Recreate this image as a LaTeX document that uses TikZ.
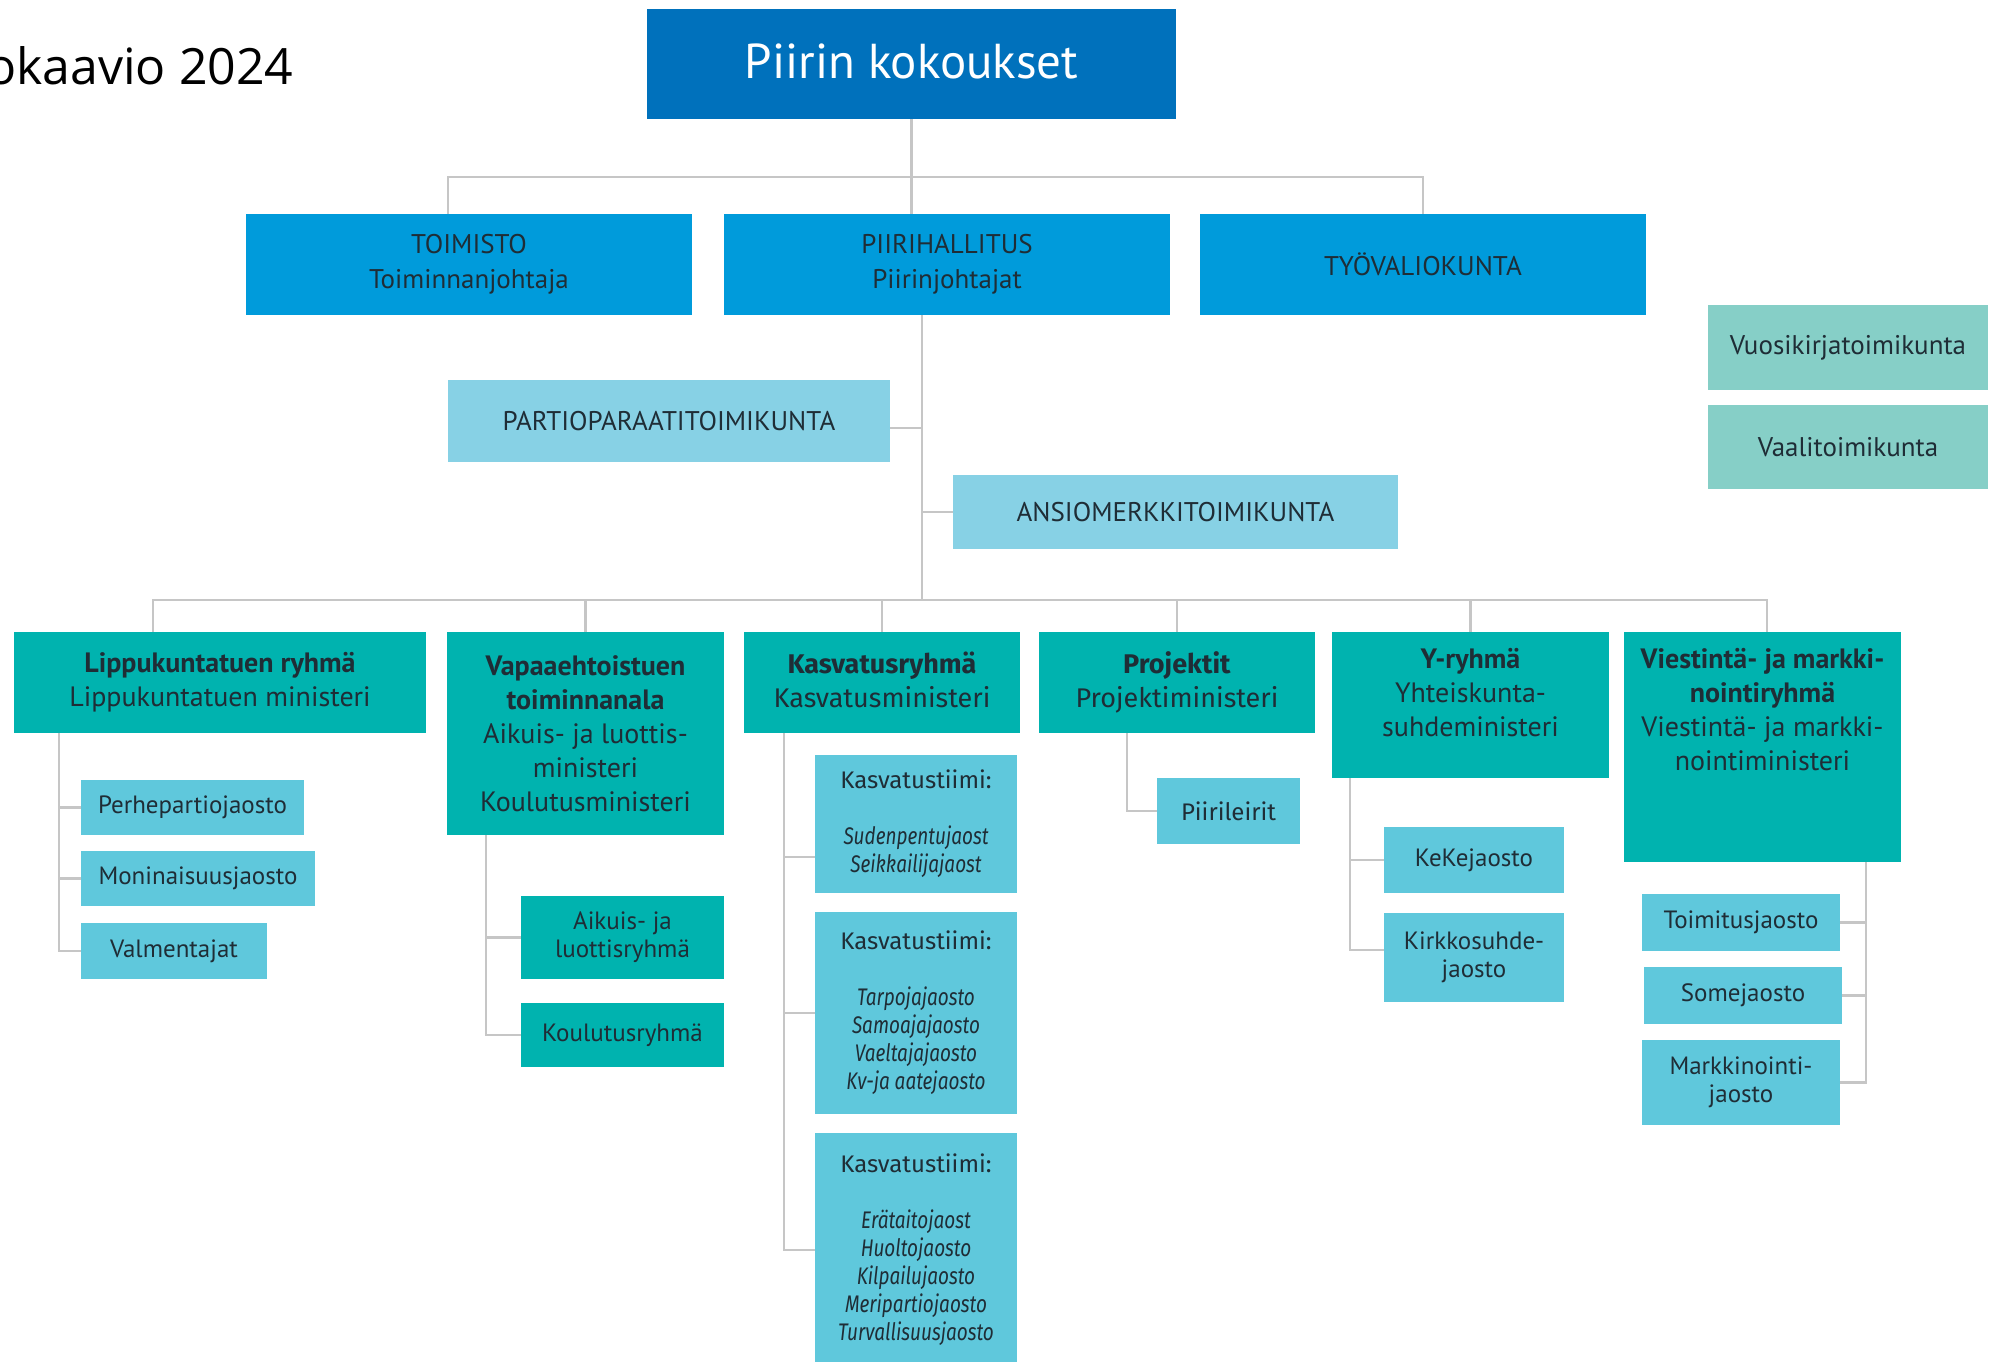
\documentclass[tikz,border=0pt]{standalone}
\usepackage{fontspec}
\setmainfont{PT Sans}
\newfontfamily\widefont{Fira Sans}
\newfontfamily\tiimifont{Fira Sans}[FakeStretch=0.79]
\newfontfamily\titlefont{Open Sans}
\newcommand{\jaos}[1]{{\tiimifont\itshape #1}}

\definecolor{topblue}{HTML}{0071BC}
\definecolor{boardblue}{HTML}{009BDB}
\definecolor{cmteblue}{HTML}{87D1E5}
\definecolor{sideteal}{HTML}{86CFC7}
\definecolor{grpteal}{HTML}{00B3AF}
\definecolor{subblue}{HTML}{5FC8DC}
\definecolor{linegray}{HTML}{C6C6C6}
\definecolor{txt}{HTML}{1F2D36}

\begin{document}
\begin{tikzpicture}[x=1pt, y=-1pt,
    conn/.style={draw=linegray, line width=2.5pt},
    base/.style={rectangle, inner sep=2pt, align=center, text=txt},
    toplvl/.style={base, fill=topblue, text=white, font=\fontsize{49}{56}\selectfont},
    board/.style={base, fill=boardblue, minimum width=446pt, minimum height=101pt, font=\fontsize{27}{35}\selectfont},
    cmte/.style={base, fill=cmteblue, font=\fontsize{27}{34}\selectfont},
    side/.style={base, fill=sideteal, minimum width=280pt, font=\fontsize{27}{34}\selectfont},
    grp/.style={base, fill=grpteal, font=\fontsize{28}{34}\selectfont},
    grptxt/.style={base, font=\fontsize{28}{34}\selectfont},
    grpwide/.style={grp, font=\widefont\fontsize{27}{34}\selectfont},
    sub/.style={base, fill=subblue, font=\fontsize{25}{28}\selectfont},
    subteal/.style={sub, fill=grpteal},
    tiimi/.style={sub, minimum width=202pt, font=\widefont\fontsize{24}{28}\selectfont}]

    \useasboundingbox (0,0) rectangle (2002,1362);

    % Title
    \node[anchor=base west, inner sep=0pt, text=black, font=\titlefont\fontsize{50}{56}\selectfont] (title) at (-14,85) {okaavio 2024};

    % Meetings, office and board
    \node[toplvl, minimum width=529pt, minimum height=110pt] (kokous) at (911.5,64) {\raisebox{5pt}{Piirin kokoukset}};
    \node[board] (toimisto) at (469,264.5) {TOIMISTO\\Toiminnanjohtaja};
    \node[board] (hallitus) at (947,264.5) {PIIRIHALLITUS\\Piirinjohtajat};
    \node[board] (tyovk) at (1423,264.5) {TYÖVALIOKUNTA};

    % Committees
    \node[cmte, minimum width=442pt, minimum height=82pt] (paraati) at (669,421) {PARTIOPARAATITOIMIKUNTA};
    \node[cmte, minimum width=445pt, minimum height=74pt] (ansio) at (1175.5,512) {ANSIOMERKKITOIMIKUNTA};
    \node[side, minimum height=85pt] (vuosikirja) at (1848,347.5) {Vuosikirjatoimikunta};
    \node[side, minimum height=84pt] (vaali) at (1848,447) {Vaalitoimikunta};

    % Groups
    \node[grp, minimum width=412pt, minimum height=101pt] (lippu) at (220,682.5) {\textbf{Lippukuntatuen ryhmä}\\Lippukuntatuen ministeri};
    \node[grp, minimum width=277pt, minimum height=203pt] (vapaa) at (585.5,733.5) {\textbf{Vapaaehtoistuen}\\\textbf{toiminnanala}\\Aikuis- ja luottis-\\ministeri\\Koulutusministeri};
    \node[grpwide, minimum width=276pt, minimum height=101pt] (kasvatus) at (882,682.5) {\raisebox{6pt}{\textbf{Kasvatusryhmä}}\\\raisebox{6pt}{Kasvatusministeri}};
    \node[grpwide, minimum width=276pt, minimum height=101pt] (projektit) at (1177,682.5) {\raisebox{6pt}{\textbf{Projektit}}\\\raisebox{6pt}{Projektiministeri}};
    \node[grp, minimum width=277pt, minimum height=146pt] (yryhma) at (1470.5,705) {};
    \node[grptxt, anchor=north] (yryhmatxt) at ([yshift=-14pt]yryhma.north) {\textbf{Y-ryhmä}\\Yhteiskunta-\\suhdeministeri};
    \node[grp, minimum width=277pt, minimum height=230pt] (viestinta) at (1762.5,747) {};
    \node[grptxt, anchor=north] (viestintatxt) at ([yshift=-14pt]viestinta.north) {\textbf{Viestintä- ja markki-}\\\textbf{nointiryhmä}\\Viestintä- ja markki-\\nointiministeri};

    % Sub-units
    \node[sub, minimum width=223pt, minimum height=55pt] (perhe) at (192.5,807.5) {Perhepartiojaosto};
    \node[sub, minimum width=234pt, minimum height=55pt] (moni) at (198,878.5) {Moninaisuusjaosto};
    \node[sub, minimum width=186pt, minimum height=56pt] (valm) at (174,951) {Valmentajat};
    \node[subteal, minimum width=203pt, minimum height=83pt] (aikuis) at (622.5,937.5) {Aikuis- ja\\luottisryhmä};
    \node[subteal, minimum width=203pt, minimum height=64pt] (koulutus) at (622.5,1035) {Koulutusryhmä};
    \node[tiimi, minimum height=138pt] (tiimiA) at (916,824) {Kasvatustiimi:\\[28pt]\jaos{Sudenpentujaost}\\\jaos{Seikkailijajaost}};
    \node[tiimi, minimum height=202pt] (tiimiB) at (916,1013) {Kasvatustiimi:\\[28pt]\jaos{Tarpojajaosto}\\\jaos{Samoajajaosto}\\\jaos{Vaeltajajaosto}\\\jaos{Kv-ja aatejaosto}};
    \node[tiimi, minimum height=234pt] (tiimiC) at (916,1250) {Kasvatustiimi:\\[28pt]\jaos{Erätaitojaost}\\\jaos{Huoltojaosto}\\\jaos{Kilpailujaosto}\\\jaos{Meripartiojaosto}\\\jaos{Turvallisuusjaosto}};
    \node[sub, minimum width=143pt, minimum height=66pt, font=\widefont\fontsize{24}{28}\selectfont] (piirileirit) at (1228.5,811) {Piirileirit};
    \node[sub, minimum width=180pt, minimum height=66pt] (keke) at (1474,860) {KeKejaosto};
    \node[sub, minimum width=180pt, minimum height=89pt] (kirkko) at (1474,957.5) {Kirkkosuhde-\\jaosto};
    \node[sub, minimum width=198pt, minimum height=57pt] (toimitus) at (1741,922.5) {Toimitusjaosto};
    \node[sub, minimum width=198pt, minimum height=57pt] (some) at (1743,995.5) {Somejaosto};
    \node[sub, minimum width=198pt, minimum height=85pt] (markk) at (1741,1082.5) {Markkinointi-\\jaosto};

    % Top connectors
    \coordinate (bus1) at (912,177);
    \draw[conn] (kokous.south) -- (kokous.south |- hallitus.north);
    \draw[conn] ([xshift=-21pt]toimisto.north) |- (bus1) -| (tyovk.north);

    % Board spine and committees
    \coordinate (hallS) at ([xshift=-25pt]hallitus.south);
    \coordinate (bus2) at (922,600);
    \draw[conn] (hallS) -- (bus2);
    \draw[conn] ([yshift=-7pt]paraati.east) -- ([yshift=-7pt]paraati.east -| hallS);
    \draw[conn] (ansio.west) -- (ansio.west -| hallS);

    % Group bus
    \draw[conn] ([xshift=-67pt]lippu.north) |- (bus2) -| ([xshift=4.5pt]viestinta.north);
    \foreach \g in {vapaa,kasvatus,projektit,yryhma}
        \draw[conn] (\g.north) -- (\g.north |- bus2);

    % Sub-unit spines
    \coordinate (lippuS) at ([xshift=-161pt]lippu.south);
    \foreach \s in {perhe,moni}
        \draw[conn] (\s.west) -- (\s.west -| lippuS);
    \draw[conn] (lippuS) |- (valm.west);

    \coordinate (vapaaS) at ([xshift=-99.5pt]vapaa.south);
    \draw[conn] (aikuis.west) -- (aikuis.west -| vapaaS);
    \draw[conn] (vapaaS) |- (koulutus.west);

    \coordinate (kasvS) at ([xshift=-98pt]kasvatus.south);
    \draw[conn] ([yshift=-33pt]tiimiA.west) -- ([yshift=-33pt]tiimiA.west -| kasvS);
    \draw[conn] (tiimiB.west) -- (tiimiB.west -| kasvS);
    \draw[conn] (kasvS) |- (tiimiC.west);

    \coordinate (projS) at ([xshift=-50pt]projektit.south);
    \draw[conn] (projS) |- (piirileirit.west);

    \coordinate (yS) at ([xshift=-120.5pt]yryhma.south);
    \draw[conn] (keke.west) -- (keke.west -| yS);
    \draw[conn] (yS) |- ([yshift=7.5pt]kirkko.west);

    \coordinate (viestS) at ([xshift=103.5pt]viestinta.south);
    \foreach \s in {toimitus,some}
        \draw[conn] (\s.east) -- (\s.east -| viestS);
    \draw[conn] (viestS) |- (markk.east);
\end{tikzpicture}
\end{document}
